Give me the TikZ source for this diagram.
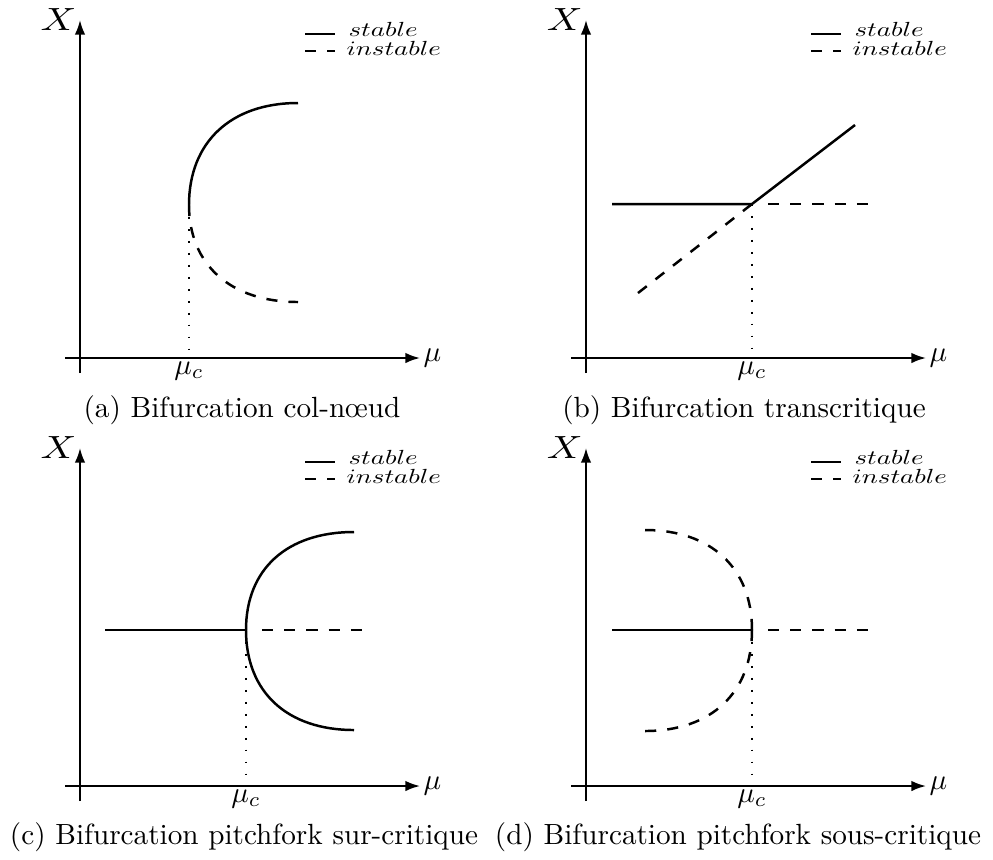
\documentclass[tikz,border=0pt]{standalone}
\usetikzlibrary{arrows.meta}
\newcommand\leg[1]{\scalebox{0.92}[0.7]{$#1$}}
\newcommand\bigX{\scalebox{1.35}[1.1]{$X$}}
\begin{document}
\begin{tikzpicture}[x=0.3425pt,y=-0.3425pt,
  axis/.style={line width=0.7pt,-{Latex[length=5pt,width=3.6pt]}},
  stab/.style={line width=0.85pt},
  instab/.style={line width=0.85pt,dash pattern=on 3.8pt off 3.8pt},
  dotl/.style={line width=0.6pt,dash pattern=on 0.6pt off 3.5pt},
  lbl/.style={inner sep=1pt},
  legtxt/.style={inner sep=0pt,anchor=base west},
  capt/.style={inner sep=0pt,anchor=base}]
\useasboundingbox (0,0) rectangle (993,859);

% ---------- panel (a)
\begin{scope}[shift={(80,358)}]
  \coordinate (aB) at (0,15);   \coordinate (aT) at (0,-338);
  \coordinate (aLf) at (-15,0); \coordinate (aR) at (340,0);
  \draw[axis] (aB) -- (aT);
  \draw[axis] (aLf) -- (aR);
  \node[lbl,anchor=east] (aX) at (aT) {\bigX};
  \node[lbl,anchor=west] (amu) at (aR) {$\mu$};
  \coordinate (aS1) at (225,-324); \coordinate (aS2) at (255,-324);
  \coordinate (aI1) at (225,-307); \coordinate (aI2) at (255,-307);
  \draw[stab] (aS1) -- (aS2);
  \draw[instab] (aI1) -- (aI2);
  \node[legtxt] (aLs) at (268,-322) {\leg{stable}};
  \node[legtxt] (aLi) at (266,-303) {\leg{instable}};
  \coordinate (aV) at (109,-153); \coordinate (aU) at (218,-255);
  \coordinate (aD) at (218,-56);  \coordinate (aM) at (109,0);
  \draw[stab] (aV) .. controls +(0,-63) and +(-67,0) .. (aU);
  \draw[instab] (aV) .. controls +(0,60) and +(-67,0) .. (aD);
  \draw[dotl] (aV) -- (aM);
  \node[lbl,anchor=north] (amuc) at (aM) {$\mu_c$};
\end{scope}
\node[capt] (capa) at (242,417) {(a) Bifurcation col-n\oe ud};

% ---------- panel (b)
\begin{scope}[shift={(586,358)}]
  \coordinate (bB) at (0,15);   \coordinate (bT) at (0,-338);
  \coordinate (bLf) at (-15,0); \coordinate (bR) at (340,0);
  \draw[axis] (bB) -- (bT);
  \draw[axis] (bLf) -- (bR);
  \node[lbl,anchor=east] (bX) at (bT) {\bigX};
  \node[lbl,anchor=west] (bmu) at (bR) {$\mu$};
  \coordinate (bS1) at (225,-324); \coordinate (bS2) at (255,-324);
  \coordinate (bI1) at (225,-307); \coordinate (bI2) at (255,-307);
  \draw[stab] (bS1) -- (bS2);
  \draw[instab] (bI1) -- (bI2);
  \node[legtxt] (bLs) at (268,-322) {\leg{stable}};
  \node[legtxt] (bLi) at (266,-303) {\leg{instable}};
  \coordinate (bV) at (166,-154); \coordinate (bL) at (26,-154);
  \coordinate (bU) at (269,-233); \coordinate (bRr) at (288,-154);
  \coordinate (bD) at (52,-65);   \coordinate (bM) at (166,0);
  \draw[stab] (bL) -- (bV) -- (bU);
  \draw[instab] (bD) -- (bV);
  \draw[instab] ([xshift=5.5pt]bV) -- (bRr);
  \draw[dotl] (bV) -- (bM);
  \node[lbl,anchor=north] (bmuc) at (bM) {$\mu_c$};
\end{scope}
\node[capt] (capb) at (744,417) {(b) Bifurcation transcritique};

% ---------- panel (c)
\begin{scope}[shift={(80,786)}]
  \coordinate (cB) at (0,15);   \coordinate (cT) at (0,-338);
  \coordinate (cLf) at (-15,0); \coordinate (cR) at (340,0);
  \draw[axis] (cB) -- (cT);
  \draw[axis] (cLf) -- (cR);
  \node[lbl,anchor=east] (cX) at (cT) {\bigX};
  \node[lbl,anchor=west] (cmu) at (cR) {$\mu$};
  \coordinate (cS1) at (225,-324); \coordinate (cS2) at (255,-324);
  \coordinate (cI1) at (225,-307); \coordinate (cI2) at (255,-307);
  \draw[stab] (cS1) -- (cS2);
  \draw[instab] (cI1) -- (cI2);
  \node[legtxt] (cLs) at (268,-322) {\leg{stable}};
  \node[legtxt] (cLi) at (266,-303) {\leg{instable}};
  \coordinate (cV) at (166,-156); \coordinate (cL) at (25,-156);
  \coordinate (cU) at (274,-254); \coordinate (cD) at (274,-56);
  \coordinate (cRr) at (290,-156); \coordinate (cM) at (166,0);
  \draw[stab] (cL) -- (cV);
  \draw[stab] (cV) .. controls +(0,-61) and +(-67,0) .. (cU);
  \draw[stab] (cV) .. controls +(0,62) and +(-67,0) .. (cD);
  \draw[instab] ([xshift=5.5pt]cV) -- (cRr);
  \draw[dotl] (cV) -- (cM);
  \node[lbl,anchor=north] (cmuc) at (cM) {$\mu_c$};
\end{scope}
\node[capt] (capc) at (244,844) {(c) Bifurcation pitchfork sur-critique};

% ---------- panel (d)
\begin{scope}[shift={(586,786)}]
  \coordinate (dB) at (0,15);   \coordinate (dT) at (0,-338);
  \coordinate (dLf) at (-15,0); \coordinate (dR) at (340,0);
  \draw[axis] (dB) -- (dT);
  \draw[axis] (dLf) -- (dR);
  \node[lbl,anchor=east] (dX) at (dT) {\bigX};
  \node[lbl,anchor=west] (dmu) at (dR) {$\mu$};
  \coordinate (dS1) at (225,-324); \coordinate (dS2) at (255,-324);
  \coordinate (dI1) at (225,-307); \coordinate (dI2) at (255,-307);
  \draw[stab] (dS1) -- (dS2);
  \draw[instab] (dI1) -- (dI2);
  \node[legtxt] (dLs) at (268,-322) {\leg{stable}};
  \node[legtxt] (dLi) at (266,-303) {\leg{instable}};
  \coordinate (dV) at (166,-156); \coordinate (dL) at (26,-156);
  \coordinate (dU) at (59,-256); \coordinate (dD) at (59,-55);
  \coordinate (dRr) at (289,-156); \coordinate (dM) at (166,0);
  \draw[stab] (dL) -- (dV);
  \draw[instab] (dV) .. controls +(0,-62) and +(66,0) .. (dU);
  \draw[instab] (dV) .. controls +(0,63) and +(66,0) .. (dD);
  \draw[instab] ([xshift=5.5pt]dV) -- (dRr);
  \draw[dotl] (dV) -- (dM);
  \node[lbl,anchor=north] (dmuc) at (dM) {$\mu_c$};
\end{scope}
\node[capt] (capd) at (738,844) {(d) Bifurcation pitchfork sous-critique};
\end{tikzpicture}
\end{document}
